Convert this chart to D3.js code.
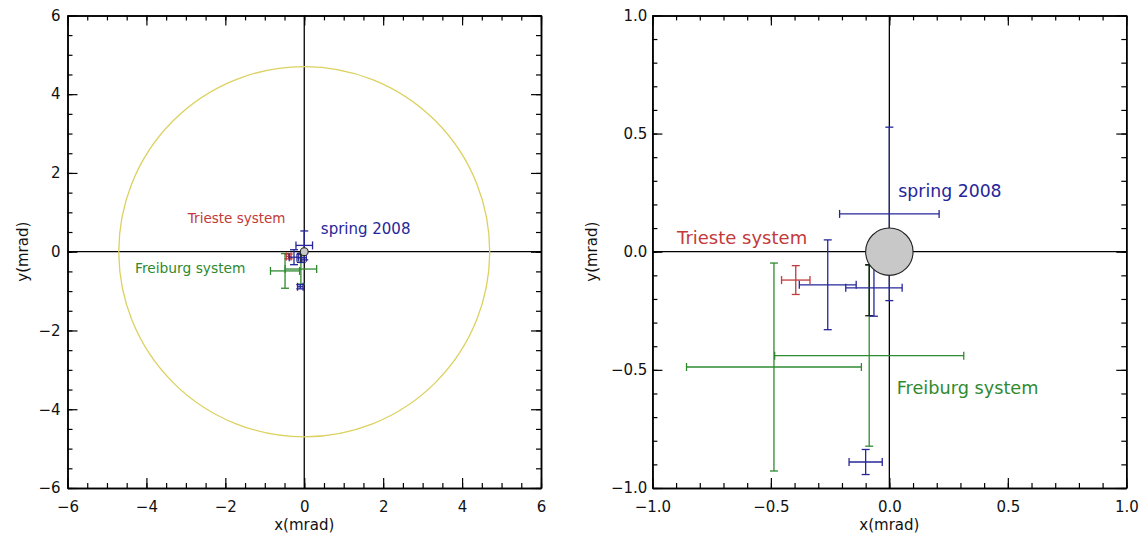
<!DOCTYPE html>
<html>
<head>
<meta charset="utf-8">
<script src="https://cdn.jsdelivr.net/npm/d3@7"></script>
<style>
  body { margin: 0; background: #fff; }
  svg { display: block; font-family: "DejaVu Sans", sans-serif; }
</style>
</head>
<body>
<svg id="chart" width="1139" height="536"></svg>
<script>
// spring 2008 (blue)
const springX = [0.0, -0.26, -0.065, -0.10];
const springY = [0.16, -0.14, -0.153, -0.89];
const springXErr = [0.21, 0.12, 0.119, 0.07];
const springYErr = [0.367, 0.19, 0.12, 0.053];

// Trieste system (red)
const triesteX = [-0.395];
const triesteY = [-0.12];
const triesteXErr = [0.06];
const triesteYErr = [0.061];

// Freiburg system (green)
const freiburgX = [-0.487, -0.085];
const freiburgY = [-0.488, -0.44];
const freiburgXErr = [0.369, 0.399];
const freiburgYErr = [0.44, 0.383];

// the short black bar drawn over the top of the second green one
const blackX = [-0.085];
const blackY = [-0.163];
const blackXErr = [0];
const blackYErr = [0.108];

const spotRadius = 0.1;   // grey disc at the origin
const ringRadius = 4.7;   // yellow circle, left panel

const leftTicks = [-6, -4, -2, 0, 2, 4, 6];
const rightTicks = [-1.0, -0.5, 0.0, 0.5, 1.0];
const seriesNames = ['spring 2008', 'Trieste system', 'Freiburg system'];

const colors = { spring: '#26269a', trieste: '#c23a3a', freiburg: '#2f8a30', black: '#111' };

const series = [
  { c: colors.freiburg, x: freiburgX, y: freiburgY, xe: freiburgXErr, ye: freiburgYErr },
  { c: colors.black, x: blackX, y: blackY, xe: blackXErr, ye: blackYErr },
  { c: colors.trieste, x: triesteX, y: triesteY, xe: triesteXErr, ye: triesteYErr },
  { c: colors.spring, x: springX, y: springY, xe: springXErr, ye: springYErr }
];

const svg = d3.select('#chart');

const panels = [
  {
    lim: 6, left: 67.5, right: 541, top: 15.4, bottom: 488,
    ticks: leftTicks, minor: 0.5, fmt: d3.format('d'), ypad: 7, ytitle: 23,
    ring: true,
    labels: [
      { t: seriesNames[1], c: colors.trieste, x: -2.95, y: 0.72, size: 13.5 },
      { t: seriesNames[0], c: colors.spring, x: 0.42, y: 0.45, size: 15 },
      { t: seriesNames[2], c: colors.freiburg, x: -4.29, y: -0.54, size: 13.8 }
    ]
  },
  {
    lim: 1, left: 652.4, right: 1126.3, top: 15.4, bottom: 488,
    ticks: rightTicks, minor: 0.1, fmt: d3.format('.1f'), ypad: 5, ytitle: 592,
    ring: false,
    labels: [
      { t: seriesNames[0], c: colors.spring, x: 0.038, y: 0.231, size: 17.3 },
      { t: seriesNames[1], c: colors.trieste, x: -0.896, y: 0.033, size: 18 },
      { t: seriesNames[2], c: colors.freiburg, x: 0.031, y: -0.602, size: 17.7 }
    ]
  }
];

const styleAxis = (sel) => {
  sel.select('.domain').attr('stroke', '#000').attr('stroke-width', 1.5);
  sel.selectAll('.tick line').attr('stroke', '#000').attr('stroke-width', 1.2);
  sel.selectAll('text').style('font-size', '15px').style('font-family', '"DejaVu Sans", sans-serif').attr('fill', '#111');
};

const drawPanel = (p) => {
  const x = d3.scaleLinear().domain([-p.lim, p.lim]).range([p.left, p.right]);
  const y = d3.scaleLinear().domain([-p.lim, p.lim]).range([p.bottom, p.top]);
  const g = svg.append('g');
  const minor = d3.range(-p.lim, p.lim + p.minor / 2, p.minor);

  const sides = [
    [d3.axisBottom, x, `translate(0,${p.bottom})`, true, 13],
    [d3.axisTop, x, `translate(0,${p.top})`, false, 0],
    [d3.axisLeft, y, `translate(${p.left},0)`, true, p.ypad],
    [d3.axisRight, y, `translate(${p.right},0)`, false, 0]
  ];
  sides.forEach(([ax, sc, tr, lab, pad]) => {
    g.append('g').attr('transform', tr)
      .call(ax(sc).tickValues(minor).tickSizeInner(-5).tickSizeOuter(0).tickFormat(''))
      .call(styleAxis);
    g.append('g').attr('transform', tr)
      .call(ax(sc).tickValues(p.ticks).tickSizeInner(-10).tickSizeOuter(0)
        .tickPadding(pad).tickFormat(lab ? p.fmt : ''))
      .call(styleAxis);
  });

  // zero lines
  g.append('line').attr('x1', x(0)).attr('x2', x(0)).attr('y1', p.top).attr('y2', p.bottom)
    .attr('stroke', '#000').attr('stroke-width', 1.3);
  g.append('line').attr('x1', p.left).attr('x2', p.right).attr('y1', y(0)).attr('y2', y(0))
    .attr('stroke', '#000').attr('stroke-width', 1.3);

  if (p.ring) {
    g.append('ellipse')
      .attr('cx', x(0)).attr('cy', y(0))
      .attr('rx', x(ringRadius) - x(0)).attr('ry', y(0) - y(ringRadius))
      .attr('fill', 'none').attr('stroke', '#dcd160').attr('stroke-width', 1.3);
  }

  const cap = 4;
  series.forEach((s) => {
    const sg = g.append('g').attr('stroke', s.c).attr('stroke-width', 1.3).attr('fill', 'none');
    s.x.forEach((cx, i) => {
      const cy = s.y[i], xe = s.xe[i], ye = s.ye[i];
      if (xe > 0) {
        sg.append('line').attr('x1', x(cx - xe)).attr('x2', x(cx + xe)).attr('y1', y(cy)).attr('y2', y(cy));
        [cx - xe, cx + xe].forEach((v) => {
          sg.append('line').attr('x1', x(v)).attr('x2', x(v)).attr('y1', y(cy) - cap).attr('y2', y(cy) + cap);
        });
      }
      if (ye > 0) {
        sg.append('line').attr('x1', x(cx)).attr('x2', x(cx)).attr('y1', y(cy - ye)).attr('y2', y(cy + ye));
        [cy - ye, cy + ye].forEach((v) => {
          sg.append('line').attr('x1', x(cx) - cap).attr('x2', x(cx) + cap).attr('y1', y(v)).attr('y2', y(v));
        });
      }
    });
  });

  g.append('ellipse')
    .attr('cx', x(0)).attr('cy', y(0))
    .attr('rx', x(spotRadius) - x(0)).attr('ry', y(0) - y(spotRadius))
    .attr('fill', '#c8c8c8').attr('stroke', '#222').attr('stroke-width', 1.1);

  g.selectAll('text.lbl')
    .data(p.labels)
    .enter()
    .append('text')
    .attr('class', 'lbl')
    .attr('x', (d) => x(d.x))
    .attr('y', (d) => y(d.y))
    .attr('fill', (d) => d.c)
    .style('font-size', (d) => d.size + 'px')
    .text((d) => d.t);

  // axis titles
  g.append('text')
    .attr('x', (p.left + p.right) / 2).attr('y', 530)
    .attr('text-anchor', 'middle').style('font-size', '15px').attr('fill', '#111')
    .text('x(mrad)');
  g.append('text')
    .attr('transform', `translate(${p.ytitle},${y(0)}) rotate(-90)`)
    .attr('dy', '0.35em')
    .attr('text-anchor', 'middle').style('font-size', '15px').attr('fill', '#111')
    .text('y(mrad)');
};

panels.forEach(drawPanel);
</script>
</body>
</html>
